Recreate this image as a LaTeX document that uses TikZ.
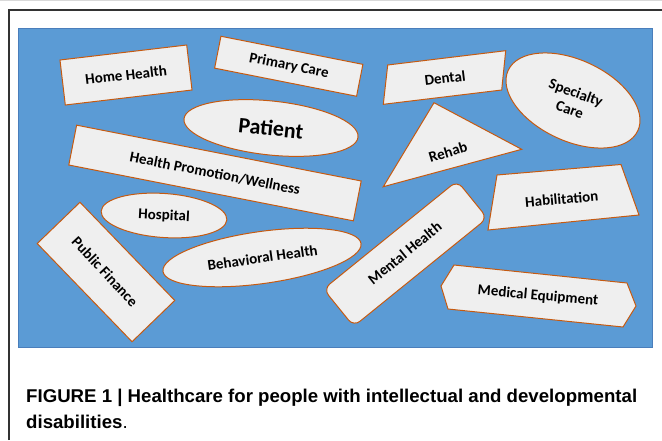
\documentclass[tikz,border=0pt]{standalone}
\usepackage{graphicx}
\usepackage{fontspec}
\setmainfont{Carlito}
\newfontfamily\capfont{Liberation Sans}
\usetikzlibrary{shapes.geometric,shapes.misc}
\definecolor{panelblue}{HTML}{5B9BD5}
\definecolor{paneledge}{HTML}{4A7EBB}
\definecolor{shapeedge}{HTML}{C55A11}
\definecolor{shapefill}{HTML}{EFEFEF}
\definecolor{framegray}{HTML}{333333}
\newsavebox\capboxA
\newlength\capwd
\begin{document}
\sbox\capboxA{\capfont\bfseries\fontsize{18.5}{19}\selectfont FIGURE 1 | Healthcare for people with intellectual and developmental}%
\setlength\capwd{\wd\capboxA}%
\pgfmathsetmacro\capsc{611/\capwd}%
\begin{tikzpicture}[x=1pt,y=-1pt,
  shp/.style={draw=shapeedge, fill=shapefill, line width=1pt},
  rectbox/.style={shp, rectangle, inner sep=0pt},
  ellbox/.style={shp, ellipse, inner sep=0pt},
  lbl/.style={font=\fontsize{15}{18}\selectfont\bfseries, text=black, inner sep=0pt, align=center},
  capline/.style={anchor=base west, inner sep=0pt, text=black}
]
\useasboundingbox (0,0) rectangle (662,440);
\fill[white] (0,0) rectangle (662,440);
\draw[gray!30, line width=1pt] (0,0.5) -- (662,0.5);
\draw[framegray, line width=1.2pt] (9,440) -- (9,10) -- (662,10);
\draw[paneledge, fill=panelblue, line width=0.8pt] (18,28) rectangle (652,347);

% rectangles
\node[rectbox, minimum width=127.6pt, minimum height=45.3pt, rotate=6.75] (homebox) at (126,75) {};
\node[rectbox, minimum width=144.7pt, minimum height=32.5pt, rotate=-11.2] (primbox) at (288.75,66.25) {};
\node[rectbox, minimum width=290pt, minimum height=40.6pt, rotate=-11.1] (hpwbox) at (215,173) {};
\node[rectbox, minimum width=136.5pt, minimum height=59.4pt, rotate=-46] (pubbox) at (106,272) {};
\node[shp, rectangle, rounded corners=8pt, inner sep=0pt, minimum width=172pt, minimum height=48pt, rotate=39] (mentbox) at (405.4,253.6) {};

% ellipses
\node[ellbox, minimum width=175pt, minimum height=54pt, rotate=-6] (patbox) at (271,128) {};
\node[ellbox, minimum width=126pt, minimum height=44pt, rotate=-4] (hospbox) at (164,215.5) {};
\node[ellbox, minimum width=200pt, minimum height=52pt, rotate=8] (behbox) at (262,257.5) {};
\node[ellbox, minimum width=143pt, minimum height=81pt, rotate=-25] (specbox) at (573,100.5) {};

% polygons
\draw[shp] (387.7,65) -- (505.7,50.7) -- (501.7,90) -- (383.3,104.3) -- cycle;
\draw[shp] (434,102.7) -- (521.7,149.3) -- (383.3,186.7) -- cycle;
\draw[shp] (497,175) -- (621,164.5) -- (639,215) -- (488,230) -- cycle;
\draw[shp] (454,265) -- (627,283) -- (636,306) -- (623,327) -- (448,309) -- (441,286) -- cycle;

% labels
\node[lbl, rotate=6.75] (homelbl) at (126,75) {Home Health};
\node[lbl, rotate=-11.2] (primlbl) at (289,66) {Primary Care};
\node[lbl, font=\fontsize{22}{24}\selectfont\bfseries, rotate=-6] (patlbl) at (271,128) {Patient};
\node[lbl, rotate=-11.1] (hpwlbl) at (215,173.5) {Health Promotion/Wellness};
\node[lbl, rotate=-3] (hosplbl) at (164,216) {Hospital};
\node[lbl, rotate=8] (behlbl) at (262.5,257.5) {Behavioral Health};
\node[lbl, rotate=-47] (publbl) at (105,271.7) {Public Finance};
\node[lbl, rotate=7] (dentlbl) at (445,78) {Dental};
\node[lbl, rotate=-20] (speclbl) at (573,101) {Specialty\\Care};
\node[lbl, rotate=17] (rehlbl) at (448,152) {Rehab};
\node[lbl, rotate=39] (mentlbl) at (404.7,253) {Mental Health};
\node[lbl, rotate=5] (hablbl) at (561.7,199) {Habilitation};
\node[lbl, rotate=-5] (medlbl) at (538,296) {Medical Equipment};

% caption
\node[capline] (cap1) at (26,402.5) {\scalebox{\capsc}[1]{\usebox\capboxA}};
\node[capline] (cap2) at (26,428.5) {\scalebox{\capsc}[1]{\capfont\fontsize{18.5}{19}\selectfont\textbf{disabilities}.}};
\end{tikzpicture}
\end{document}
